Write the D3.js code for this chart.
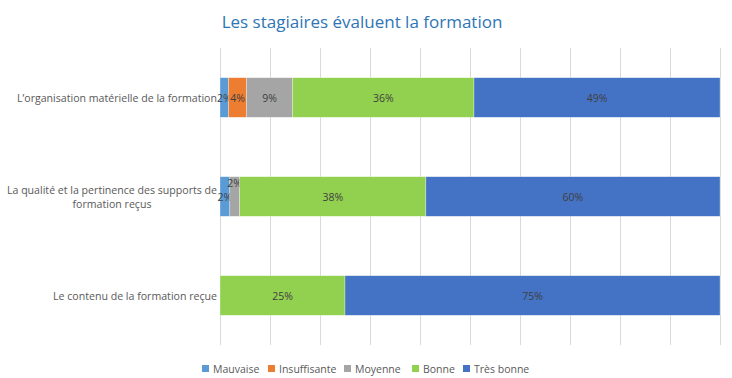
<!DOCTYPE html>
<html>
<head>
<meta charset="utf-8">
<script src="https://cdn.jsdelivr.net/npm/d3@7"></script>
<style>
  body { margin: 0; background: #fff; }
  svg { font-family: "Open Sans", sans-serif; }
</style>
</head>
<body>
<svg id="chart"></svg>
<script>
// data (row order top to bottom)
const categories = [
  "L’organisation matérielle de la formation",
  "La qualité et la pertinence des supports de formation reçus",
  "Le contenu de la formation reçue"
];
const series = ["Mauvaise", "Insuffisante", "Moyenne", "Bonne", "Très bonne"];
const mauvaise = [1.7, 2, 0];
const insuffisante = [3.6, 0, 0];
const moyenne = [9.2, 2, 0];
const bonne = [36.3, 38, 25];
const tresBonne = [49.2, 60, 75];
const ticks = [0, 10, 20, 30, 40, 50, 60, 70, 80, 90, 100];

const colors = ["#5b9bd5", "#ed7d31", "#a5a5a5", "#92d050", "#4472c4"];

const W = 732, H = 378;
const margin = { top: 48, right: 12, bottom: 33, left: 220 };
const width = W - margin.left - margin.right;
const height = H - margin.top - margin.bottom;

const svg = d3.select("#chart").attr("width", W).attr("height", H);

// build rows for stacking
const rows = categories.map((c, i) => ({
  cat: c,
  "Mauvaise": mauvaise[i],
  "Insuffisante": insuffisante[i],
  "Moyenne": moyenne[i],
  "Bonne": bonne[i],
  "Très bonne": tresBonne[i]
}));

const stack = d3.stack().keys(series).offset(d3.stackOffsetExpand);
const layers = stack(rows);

const x = d3.scaleLinear().domain([0, 1]).range([0, width]);
const y = d3.scaleBand().domain(categories).range([0, height]).paddingInner(0.6).paddingOuter(0.3);

// title
svg.append("text")
  .attr("x", 362).attr("y", 28)
  .attr("text-anchor", "middle")
  .style("font-size", "17px")
  .style("fill", "#2e75b6")
  .text("Les stagiaires évaluent la formation");

const g = svg.append("g").attr("transform", "translate(" + margin.left + "," + margin.top + ")");

// vertical gridlines
g.append("g")
  .selectAll("line")
  .data(ticks)
  .enter().append("line")
  .attr("x1", d => x(d / 100) + 0.5).attr("x2", d => x(d / 100) + 0.5)
  .attr("y1", 0).attr("y2", height)
  .attr("stroke", "#d9d9d9").attr("stroke-width", 1);

// bars
const layer = g.selectAll(".layer")
  .data(layers)
  .enter().append("g")
  .attr("class", "layer")
  .attr("fill", (d, i) => colors[i]);

layer.selectAll("rect")
  .data(d => d.filter(p => p.data[d.key] > 0))
  .enter().append("rect")
  .attr("x", d => x(d[0]))
  .attr("y", d => y(d.data.cat))
  .attr("width", d => x(d[1]) - x(d[0]))
  .attr("height", y.bandwidth())
  .attr("stroke", "#ffffff")
  .attr("stroke-opacity", 0.5)
  .attr("stroke-width", 0.6);

// data labels
layer.each(function (d) {
  const key = d.key;
  d3.select(this).selectAll("text")
    .data(d.filter(p => p.data[key] > 0))
    .enter().append("text")
    .attr("x", p => (x(p[0]) + x(p[1])) / 2)
    .attr("y", p => {
      let yy = y(p.data.cat) + y.bandwidth() / 2 + 4;
      // Excel nudged the overlapping label of the second row upward
      if (key === "Moyenne" && p.data.cat === categories[1]) yy -= 14;
      return yy;
    })
    .attr("text-anchor", "middle")
    .style("font-size", "10.5px")
    .style("fill", "#404040")
    .text(p => Math.round(p.data[key]) + "%");
});

// category labels (right aligned, wrapped like the original)
const catLines = [
  ["L’organisation matérielle de la formation"],
  ["La qualité et la pertinence des supports de", "formation reçus"],
  ["Le contenu de la formation reçue"]
];
const labelSize = "10.6px";
const yAxis = g.append("g");
catLines.forEach((lines, i) => {
  const cy = y(categories[i]) + y.bandwidth() / 2;
  const t = yAxis.append("text")
    .style("font-size", labelSize)
    .style("fill", "#595959");
  if (lines.length === 1) {
    t.attr("x", -3).attr("y", cy + 4).attr("text-anchor", "end").text(lines[0]);
  } else {
    // centred block, its right edge at the axis
    const tmp = yAxis.append("text").style("font-size", labelSize).text(lines[0]);
    const w = tmp.node().getComputedTextLength();
    tmp.remove();
    t.attr("text-anchor", "middle");
    lines.forEach((l, k) => {
      t.append("tspan")
        .attr("x", -3 - w / 2)
        .attr("y", cy + 4 + (k - (lines.length - 1) / 2) * 14)
        .text(l);
    });
  }
});

// legend
const legendX = [202, 268, 344, 412, 463];
const legend = svg.append("g");
series.forEach((s, i) => {
  legend.append("rect")
    .attr("x", legendX[i]).attr("y", 365)
    .attr("width", 7).attr("height", 7)
    .attr("fill", colors[i]);
  legend.append("text")
    .attr("x", legendX[i] + 11).attr("y", 372.5)
    .style("font-size", "10.5px")
    .style("fill", "#595959")
    .text(s);
});
</script>
</body>
</html>
